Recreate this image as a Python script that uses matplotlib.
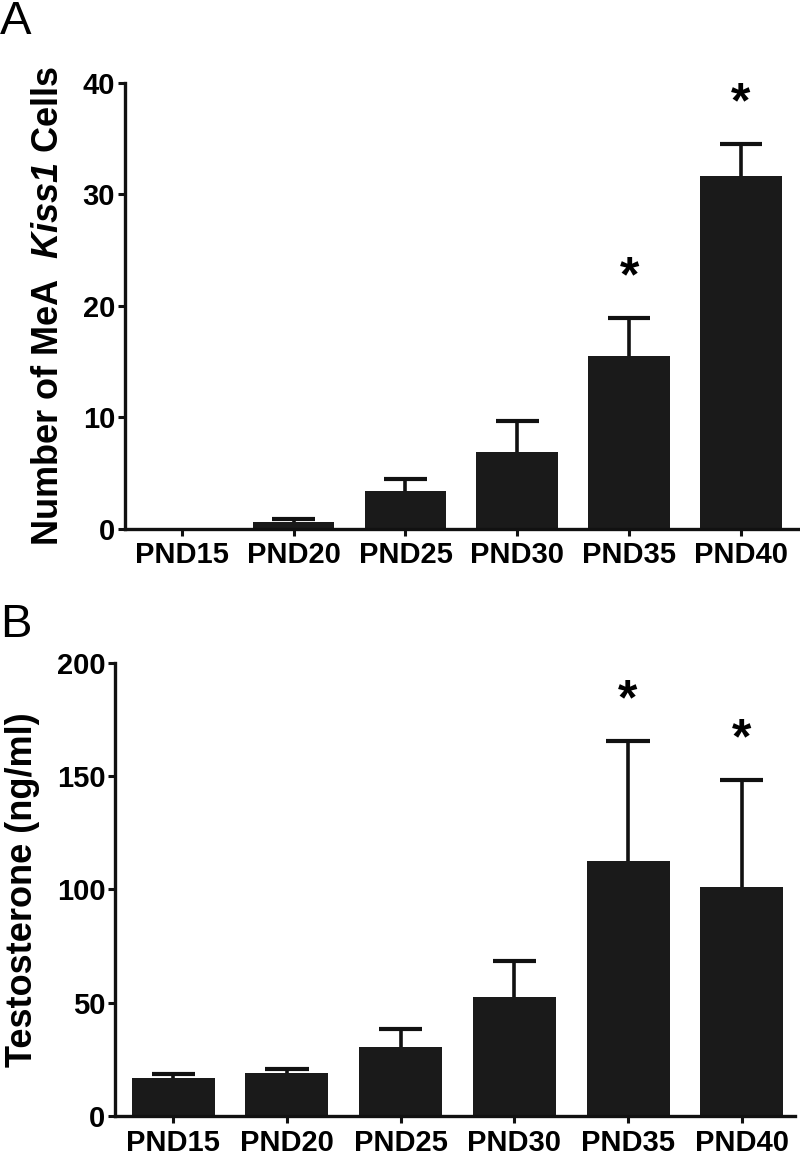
import numpy as np
import matplotlib
matplotlib.use("Agg")
import matplotlib.pyplot as plt

plt.rcParams["font.family"] = ["Liberation Sans", "DejaVu Sans"]
plt.rcParams["font.weight"] = "bold"
plt.rcParams["mathtext.fontset"] = "custom"
plt.rcParams["mathtext.bfit"] = "Liberation Sans:italic:bold"
plt.rcParams["mathtext.rm"] = "Liberation Sans:bold"

# data
ages = ["PND15", "PND20", "PND25", "PND30", "PND35", "PND40"]

kiss1_mean = [0.0, 0.6, 3.4, 6.9, 15.5, 31.7]
kiss1_sem = [0.0, 0.3, 1.1, 2.8, 3.4, 2.8]
kiss1_sig = [False, False, False, False, True, True]

testo_mean = [16.8, 19.0, 30.5, 52.5, 112.6, 101.1]
testo_sem = [1.7, 1.8, 7.9, 15.9, 53.0, 47.2]
testo_sig = [False, False, False, False, True, True]

BAR_COLOR = "#1a1a1a"
LINE_COLOR = "#111111"


def style_axes(ax, ymax, step):
    """Prism-like look: only left/bottom spines, thick lines."""
    for side in ["top", "right"]:
        ax.spines[side].set_visible(False)
    for side in ["left", "bottom"]:
        ax.spines[side].set_linewidth(2.4)
        ax.spines[side].set_color(LINE_COLOR)
    ax.set_ylim(0, ymax)
    ax.set_yticks(np.arange(0, ymax + 1, step))
    ax.tick_params(axis="both", width=2.2, length=5, labelsize=21,
                   color=LINE_COLOR)
    ax.tick_params(axis="x", pad=4)
    ax.tick_params(axis="y", pad=2)
    for lab in ax.get_xticklabels() + ax.get_yticklabels():
        lab.set_fontweight("bold")


def bar_panel(ax, means, sems, sig, ymax, step, ylabel, xlim):
    x = np.arange(len(ages))
    means = np.array(means)
    sems = np.array(sems)
    ax.bar(x, means, width=0.73, color=BAR_COLOR, zorder=2)

    # upper-only error bars (no cap at the bar top)
    has_err = sems > 0
    tops = means + sems
    ax.vlines(x[has_err], means[has_err], tops[has_err],
              colors=LINE_COLOR, linewidth=2.6, zorder=1)
    ax.hlines(tops[has_err], x[has_err] - 0.19, x[has_err] + 0.19,
              colors=LINE_COLOR, linewidth=3.0, zorder=1)

    ax.set_xticks(x)
    ax.set_xticklabels(ages)
    ax.set_xlim(*xlim)
    style_axes(ax, ymax, step)
    ax.set_ylabel(ylabel, fontsize=26, fontweight="bold", labelpad=12)
    for xi, t, flag in zip(x, tops, sig):
        if flag:
            ax.annotate("*", xy=(xi, t), xytext=(0, 12),
                        textcoords="offset points", ha="center", va="bottom",
                        fontsize=36, fontweight="bold")


def main():
    fig = plt.figure(figsize=(8, 11.56), dpi=100)

    ax_a = fig.add_axes([0.156, 0.5424, 0.8415, 0.3858])
    bar_panel(ax_a, kiss1_mean, kiss1_sem, kiss1_sig, 40, 10,
              r"Number of MeA  $\mathbfit{Kiss1}$ Cells", (-0.51, 5.51))

    ax_b = fig.add_axes([0.144, 0.0346, 0.85, 0.3919])
    bar_panel(ax_b, testo_mean, testo_sem, testo_sig, 200, 50,
              "Testosterone (ng/ml)", (-0.51, 5.47))

    fig.text(0.0, 1.0, "A", fontsize=34, fontweight="normal",
             ha="left", va="top")
    fig.text(0.0, 0.478, "B", fontsize=34, fontweight="normal",
             ha="left", va="top")

    fig.savefig("out.png", dpi=100)


if __name__ == "__main__":
    main()
